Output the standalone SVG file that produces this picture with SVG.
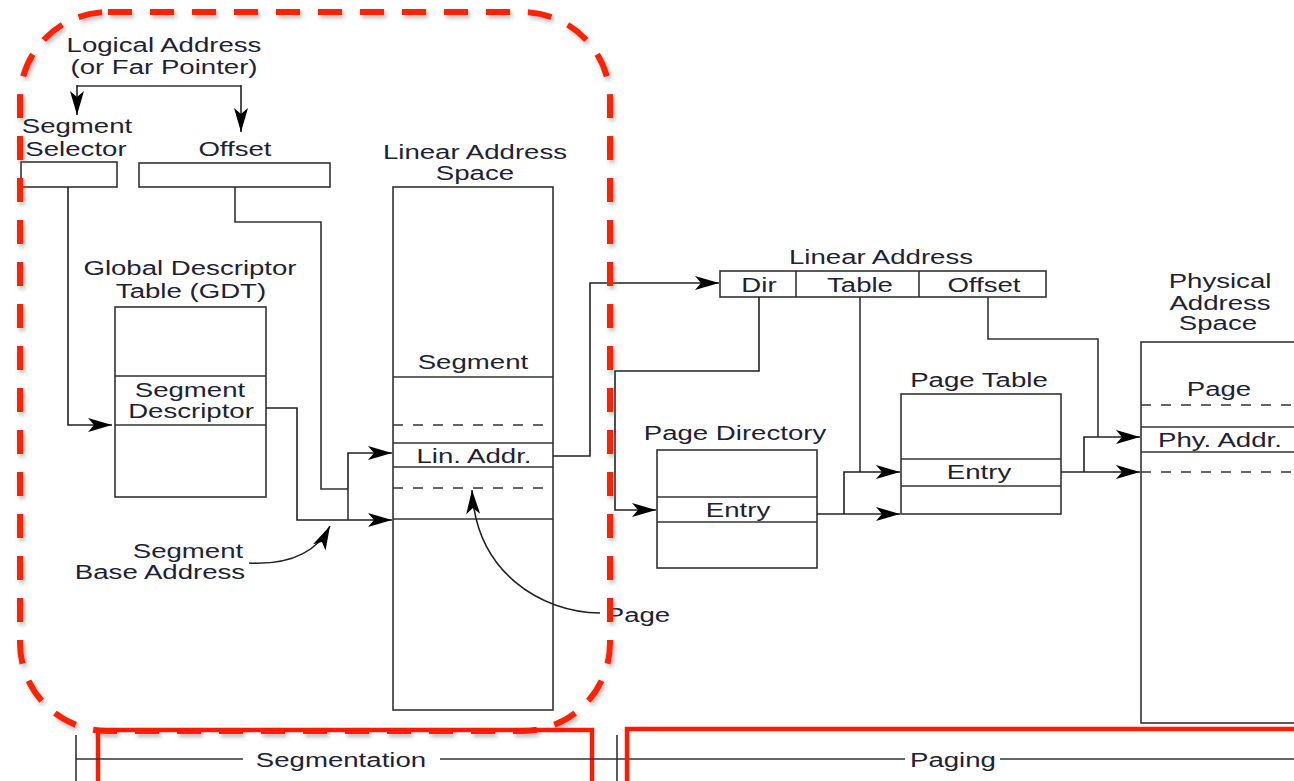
<svg xmlns="http://www.w3.org/2000/svg" width="1294" height="781" viewBox="0 0 1294 781">
<defs>
<marker id="arr" markerUnits="userSpaceOnUse" markerWidth="26" markerHeight="16" refX="24" refY="7" orient="auto" viewBox="0 0 26 16">
<path d="M0,0 L24,7 L0,14 L6,7 z" fill="#000"/>
</marker>
<filter id="sh" x="-5%" y="-5%" width="110%" height="110%">
<feDropShadow dx="2" dy="3" stdDeviation="2" flood-color="#777" flood-opacity="0.5"/>
</filter>
<style>
text{font-family:"Liberation Sans",Arial,sans-serif;font-size:20px;fill:#1e2235;text-anchor:middle;transform-box:fill-box;transform-origin:center;transform:scaleX(1.38)}
.b{fill:#fff;stroke:#333;stroke-width:1.6}
.l{fill:none;stroke:#333;stroke-width:1.6}
.d{fill:none;stroke:#333;stroke-width:1.4;stroke-dasharray:10 10}
.a{fill:none;stroke:#222;stroke-width:1.6;marker-end:url(#arr)}
.red{fill:none;stroke:#ff1a00;stroke-width:4.5}
</style>
</defs>
<rect width="1294" height="781" fill="#fff"/>

<g id="logical-address">
<text x="164" y="52">Logical Address</text>
<text x="164" y="74">(or Far Pointer)</text>
</g>
<g id="segment-selector">
<text x="77" y="133">Segment</text>
<text x="76" y="156">Selector</text>
<rect class="b" x="21" y="162" width="96" height="25"/>
</g>
<g id="offset">
<text x="235" y="156">Offset</text>
<rect class="b" x="139" y="163" width="191" height="24"/>
</g>
<g id="gdt">
<text x="190" y="275">Global Descriptor</text>
<text x="191" y="298">Table (GDT)</text>
<rect class="b" x="115" y="307" width="151" height="190"/>
<line class="l" x1="115" y1="376" x2="266" y2="376"/>
<line class="l" x1="115" y1="425" x2="266" y2="425"/>
<text x="190" y="397">Segment</text>
<text x="191" y="418">Descriptor</text>
</g>
<g id="segment-base-address">
<text x="188" y="558">Segment</text>
<text x="160" y="579">Base Address</text>
</g>
<g id="linear-address-space">
<text x="475" y="159">Linear Address</text>
<text x="475" y="180">Space</text>
<rect class="b" x="393" y="187" width="160" height="523"/>
<text x="473" y="369">Segment</text>
<line class="l" x1="393" y1="377" x2="553" y2="377"/>
<line class="d" x1="393" y1="425" x2="553" y2="425"/>
<line class="l" x1="393" y1="443" x2="553" y2="443"/>
<text x="474" y="463">Lin. Addr.</text>
<line class="l" x1="393" y1="467" x2="553" y2="467"/>
<line class="d" x1="393" y1="488" x2="553" y2="488"/>
<line class="l" x1="393" y1="519" x2="553" y2="519"/>
</g>
<g id="page-label">
<text x="638" y="622">Page</text>
</g>
<g id="linear-address">
<text x="881" y="264">Linear Address</text>
<rect class="b" x="720" y="271" width="326" height="26"/>
<line class="l" x1="796" y1="271" x2="796" y2="297"/>
<line class="l" x1="919" y1="271" x2="919" y2="297"/>
<text x="759" y="292">Dir</text>
<text x="860" y="292">Table</text>
<text x="984" y="292">Offset</text>
</g>
<g id="page-directory">
<text x="735" y="440">Page Directory</text>
<rect class="b" x="657" y="450" width="160" height="118"/>
<line class="l" x1="657" y1="497" x2="817" y2="497"/>
<line class="l" x1="657" y1="522" x2="817" y2="522"/>
<text x="738" y="517">Entry</text>
</g>
<g id="page-table">
<text x="979" y="387">Page Table</text>
<rect class="b" x="901" y="394" width="160" height="120"/>
<line class="l" x1="901" y1="459" x2="1061" y2="459"/>
<line class="l" x1="901" y1="486" x2="1061" y2="486"/>
<text x="979" y="479">Entry</text>
</g>
<g id="physical-address-space">
<text x="1220" y="288">Physical</text>
<text x="1220" y="310">Address</text>
<text x="1218" y="330">Space</text>
<rect class="b" x="1141" y="342" width="170" height="381"/>
<text x="1219" y="396">Page</text>
<line class="d" x1="1141" y1="405" x2="1294" y2="405"/>
<line class="l" x1="1141" y1="427" x2="1294" y2="427"/>
<text x="1220" y="447">Phy. Addr.</text>
<line class="l" x1="1141" y1="452" x2="1294" y2="452"/>
<line class="d" x1="1141" y1="472" x2="1294" y2="472"/>
</g>

<g id="connectors">
<line class="l" x1="77" y1="86" x2="241" y2="86"/>
<line class="a" x1="77" y1="85" x2="77" y2="115"/>
<line class="a" x1="241" y1="85" x2="241" y2="132"/>
<polyline class="a" points="68,187 68,425 112,425"/>
<polyline class="l" points="235,187 235,222 321,222 321,489 348,489"/>
<polyline class="a" points="348,489 348,453 392,453"/>
<polyline class="a" points="266,408 297,408 297,520 392,520"/>
<line class="l" x1="348" y1="489" x2="348" y2="520"/>
<path class="a" d="M249,563 Q310,566 330,526"/>
<path class="a" d="M600,613 C540,612 476,572 472,490"/>
<polyline class="a" points="553,456 590,456 590,283 719,283"/>
<polyline class="a" points="759,297 759,371 615,371 615,510 656,510"/>
<line class="l" x1="860" y1="297" x2="860" y2="472"/>
<polyline class="a" points="844,514 844,472 900,472"/>
<polyline class="a" points="817,514 900,514"/>
<polyline class="l" points="988,297 988,339 1098,339 1098,437"/>
<polyline class="a" points="1084,472 1084,437 1140,437"/>
<polyline class="a" points="1061,472 1140,472"/>
</g>

<g id="segmentation-outline">
<rect x="20" y="12" width="590" height="719" rx="88" ry="88" fill="none" stroke="#ff2200" stroke-width="6" stroke-dasharray="24 18" filter="url(#sh)"/>
</g>

<g id="segmentation">
<rect class="red" x="98" y="730" width="494" height="60"/>
<line class="l" x1="76" y1="735" x2="76" y2="781"/>
<line class="l" x1="76" y1="759" x2="243" y2="759"/>
<line class="l" x1="440" y1="759" x2="905" y2="759"/>
<text x="341" y="767">Segmentation</text>
</g>
<g id="paging">
<rect class="red" x="627" y="729" width="700" height="60"/>
<line class="l" x1="617" y1="735" x2="617" y2="781"/>
<line class="l" x1="1000" y1="759" x2="1294" y2="759"/>
<text x="953" y="767">Paging</text>
</g>
</svg>
